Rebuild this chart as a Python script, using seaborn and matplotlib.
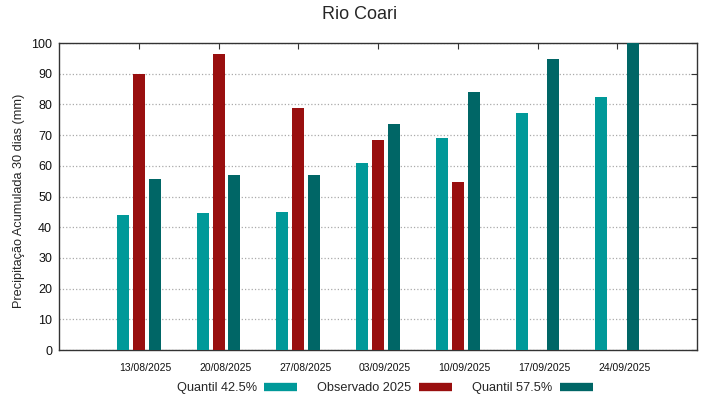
import pandas as pd
import seaborn as sns
import matplotlib.pyplot as plt
import matplotlib.transforms as mtransforms
from matplotlib.lines import Line2D

# dados
datas = ['13/08/2025', '20/08/2025', '27/08/2025', '03/09/2025',
         '10/09/2025', '17/09/2025', '24/09/2025']
quantil_425 = [44.1, 44.6, 44.8, 60.8, 69.2, 77.3, 82.5]
observado_2025 = [89.9, 96.4, 78.7, 68.4, 54.7, None, None]
quantil_575 = [55.8, 56.9, 57.1, 73.7, 84.1, 94.8, 100.0]

series = ['Quantil 42.5%', 'Observado 2025', 'Quantil 57.5%']
cores = ['#009999', '#990f0f', '#006666']

# tabela longa para o seaborn
linhas = []
for nome, valores in zip(series, [quantil_425, observado_2025, quantil_575]):
    for d, v in zip(datas, valores):
        if v is not None:
            linhas.append({'data': d, 'serie': nome, 'valor': v})
df = pd.DataFrame(linhas)

sns.set_style('white')
plt.rcParams['font.family'] = ['Liberation Sans', 'DejaVu Sans']

fig = plt.figure(figsize=(7.19, 3.99), dpi=100)
ax = fig.add_axes([0.0821, 0.1228, 0.8873, 0.7694])

sns.barplot(data=df, x='data', y='valor', hue='serie', order=datas,
            hue_order=series, palette=cores, width=0.6, gap=0.25,
            errorbar=None, saturation=1, linewidth=0, ax=ax, zorder=3)

ax.set_xlim(-1, 7)
ax.set_ylim(0, 100)
ax.set_yticks(range(0, 101, 10))
ax.grid(axis='y', linestyle=':', color='#aaaaaa', linewidth=0.9, zorder=0)
ax.set_axisbelow(True)

for s in ax.spines.values():
    s.set_visible(True)
    s.set_color('#333333')
    s.set_linewidth(1.0)

ax.tick_params(axis='both', direction='in', length=4, width=0.8,
               color='#333333', top=True, right=True)
ax.tick_params(axis='y', labelsize=9, pad=5, labelcolor='#111111')
ax.tick_params(axis='x', labelsize=7.5, pad=9, labelcolor='#111111')

# rotulos do eixo x levemente deslocados para a direita
desloc = mtransforms.ScaledTranslation(7 / 100, 0, fig.dpi_scale_trans)
for lab in ax.get_xticklabels():
    lab.set_transform(lab.get_transform() + desloc)

ax.set_xlabel('')
ax.set_ylabel('Precipitação Acumulada 30 dias (mm)', fontsize=9.2, labelpad=6)
ax.yaxis.set_label_coords(-0.053, 0.485)
fig.suptitle('Rio Coari', fontsize=13, y=0.985)

if ax.get_legend() is not None:
    ax.get_legend().remove()

handles = [Line2D([0], [0], color=c, linewidth=6, solid_capstyle='butt')
           for c in cores]
fig.legend(handles, series, loc='center', bbox_to_anchor=(0.535, 0.027),
           ncol=3, frameon=False, markerfirst=False, fontsize=9.2,
           handlelength=2.6, handletextpad=0.55, columnspacing=1.6)

plt.savefig('out.png', dpi=100)
